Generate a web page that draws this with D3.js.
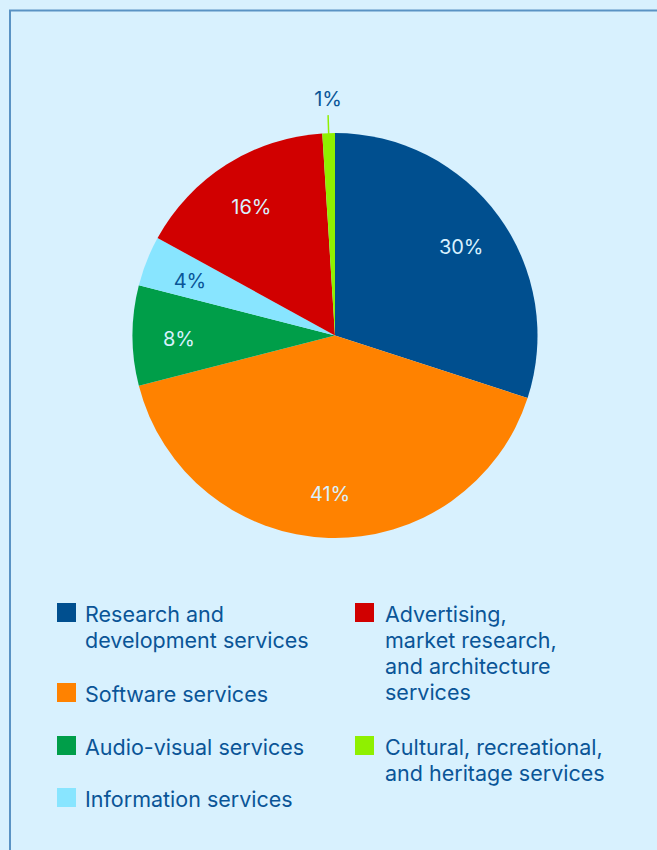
<!DOCTYPE html>
<html>
<head>
<meta charset="utf-8">
<script src="https://cdn.jsdelivr.net/npm/d3@7"></script>
<style>
  html, body { margin: 0; padding: 0; background: #d8f1fe; }
  svg { display: block; }
  text { font-family: Inter, Roboto, "Noto Sans", sans-serif; }
</style>
</head>
<body>
<svg id="chart" width="657" height="850"></svg>
<script>
// Service categories (clockwise from 12 o'clock) and their shares in percent
const categories = [
  "Research and development services",
  "Software services",
  "Audio-visual services",
  "Information services",
  "Advertising, market research, and architecture services",
  "Cultural, recreational, and heritage services"
];
const shares = [30, 41, 8, 4, 16, 1];
const colors = ["#004f8f", "#ff8200", "#009e49", "#88e5ff", "#d10000", "#8ff000"];
const labelColors = ["#d8f1fe", "#d8f1fe", "#d8f1fe", "#0a5597", "#d8f1fe", "#0a5597"];

// Legend entries: label lines, column and row (category index)
const legendLines = [
  ["Research and", "development services"],
  ["Software services"],
  ["Audio-visual services"],
  ["Information services"],
  ["Advertising,", "market research,", "and architecture", "services"],
  ["Cultural, recreational,", "and heritage services"]
];
const legendCol = [0, 0, 0, 0, 1, 1];
const legendRow = [0, 1, 2, 3, 0, 2];

const svg = d3.select("#chart");
const textColor = "#0a5597";

// Panel frame (left and top rule)
svg.append("path")
  .attr("d", "M10,850 V10.5 H657")
  .attr("fill", "none")
  .attr("stroke", "#5a93c4")
  .attr("stroke-width", 2);

const cx = 335, cy = 335.5, r = 202.5, labelR = 156;

const pie = d3.pie().sort(null).value(d => d)(shares);
const arc = d3.arc().innerRadius(0).outerRadius(r);
const labelArc = d3.arc().innerRadius(labelR).outerRadius(labelR);

const g = svg.append("g").attr("transform", `translate(${cx},${cy})`);

g.selectAll("path.slice")
  .data(pie)
  .join("path")
  .attr("class", "slice")
  .attr("d", arc)
  .attr("fill", (d, i) => colors[i]);

// Percentage labels; the smallest slice gets an outside label with a leader line
pie.forEach((d, i) => {
  const pct = shares[i] + "%";
  if (shares[i] <= 1) {
    const a = (d.startAngle + d.endAngle) / 2;
    const p1 = [Math.sin(a) * (r - 2), -Math.cos(a) * (r - 2)];
    const p2 = [Math.sin(a) * (r + 18), -Math.cos(a) * (r + 18)];
    g.append("line")
      .attr("x1", p1[0]).attr("y1", p1[1])
      .attr("x2", p2[0]).attr("y2", p2[1])
      .attr("stroke", colors[i]).attr("stroke-width", 1.5);
    g.append("text")
      .attr("x", p2[0]).attr("y", p2[1] - 9)
      .attr("text-anchor", "middle")
      .attr("font-size", 20)
      .attr("fill", labelColors[i])
      .text(pct);
  } else {
    const c = labelArc.centroid(d);
    g.append("text")
      .attr("x", c[0]).attr("y", c[1])
      .attr("dy", "0.5em")
      .attr("text-anchor", "middle")
      .attr("font-size", 20)
      .attr("fill", labelColors[i])
      .text(pct);
  }
});

// Legend
const colX = [57, 355];
const colTextGap = [28, 30];
const rowY = [603, 683, 736, 788];
const lineH = 26;
const legend = svg.append("g");
categories.forEach((name, i) => {
  const col = legendCol[i];
  const x = colX[col], y = rowY[legendRow[i]];
  const tx = x + colTextGap[col];
  legend.append("rect")
    .attr("x", x).attr("y", y)
    .attr("width", 19).attr("height", 19)
    .attr("fill", colors[i]);
  const t = legend.append("text")
    .attr("x", tx).attr("y", y + 18.5)
    .attr("font-size", 21.5)
    .attr("fill", textColor);
  legendLines[i].forEach((ln, k) => {
    t.append("tspan")
      .attr("x", tx)
      .attr("dy", k === 0 ? 0 : lineH)
      .text(ln);
  });
});
</script>
</body>
</html>
